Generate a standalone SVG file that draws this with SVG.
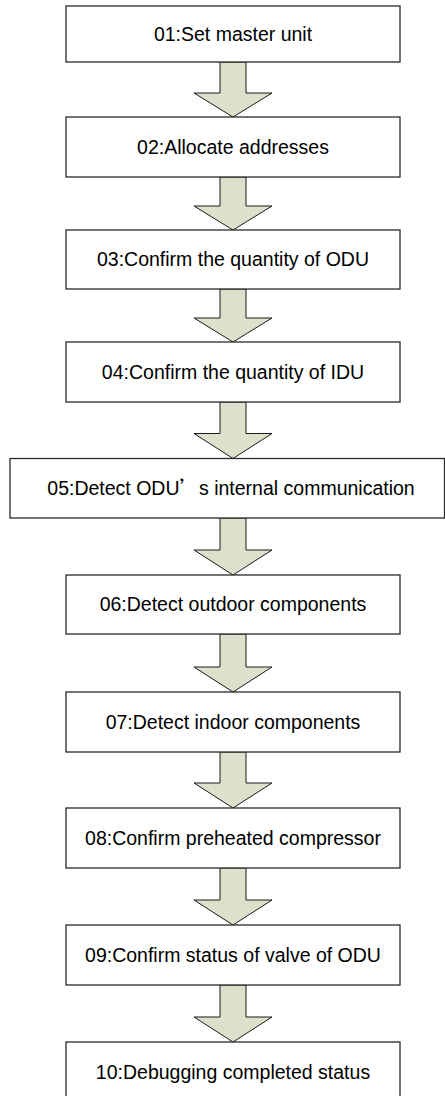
<svg xmlns="http://www.w3.org/2000/svg" width="445" height="1096" viewBox="0 0 445 1096">
<style>
.box{fill:#ffffff;stroke:#2a2a2a;stroke-width:1.3}
.lbl{font-family:"Liberation Sans",Arial,sans-serif;font-size:19.5px;fill:#000;text-anchor:middle}
.arr{fill:#dde0cb;stroke:#1a1a1a;stroke-width:1}
</style>
<rect x="0" y="0" width="445" height="1096" fill="#ffffff"/>
<g id="connectors">
<path class="arr" d="M220,62 L246,62 L246,93 L272,93 L233,117 L194,93 L220,93 Z"/>
<path class="arr" d="M220,177 L246,177 L246,206 L272,206 L233,230 L194,206 L220,206 Z"/>
<path class="arr" d="M220,289 L246,289 L246,318 L272,318 L233,342 L194,318 L220,318 Z"/>
<path class="arr" d="M220,402 L246,402 L246,433.5 L272,433.5 L233,458.5 L194,433.5 L220,433.5 Z"/>
<path class="arr" d="M220,518 L246,518 L246,550 L272,550 L233,575 L194,550 L220,550 Z"/>
<path class="arr" d="M220,634 L246,634 L246,667 L272,667 L233,692 L194,667 L220,667 Z"/>
<path class="arr" d="M220,752 L246,752 L246,783 L272,783 L233,808 L194,783 L220,783 Z"/>
<path class="arr" d="M220,868 L246,868 L246,900 L272,900 L233,925 L194,900 L220,900 Z"/>
<path class="arr" d="M220,985 L246,985 L246,1017 L272,1017 L233,1042 L194,1017 L220,1017 Z"/>
</g>
<g id="n01"><rect class="box" x="66" y="6" width="334" height="56"/><text class="lbl" x="233" y="41">01:Set master unit</text></g>
<g id="n02"><rect class="box" x="66" y="117" width="334" height="60"/><text class="lbl" x="233" y="153.5">02:Allocate addresses</text></g>
<g id="n03"><rect class="box" x="66" y="230" width="334" height="59"/><text class="lbl" x="233" y="266">03:Confirm the quantity of ODU</text></g>
<g id="n04"><rect class="box" x="66" y="342" width="334" height="60"/><text class="lbl" x="233" y="378.5">04:Confirm the quantity of IDU</text></g>
<g id="n05"><rect class="box" x="10" y="458.5" width="434.5" height="59.5"/><text class="lbl" x="231" y="495">05:Detect ODU<tspan font-family="'Noto Sans CJK SC',sans-serif">’</tspan>s internal communication</text></g>
<g id="n06"><rect class="box" x="66" y="575" width="334" height="59"/><text class="lbl" x="233" y="611">06:Detect outdoor components</text></g>
<g id="n07"><rect class="box" x="66" y="692" width="334" height="60"/><text class="lbl" x="233" y="728.5">07:Detect indoor components</text></g>
<g id="n08"><rect class="box" x="66" y="808" width="334" height="60"/><text class="lbl" x="233" y="844.5">08:Confirm preheated compressor</text></g>
<g id="n09"><rect class="box" x="66" y="925" width="334" height="60"/><text class="lbl" x="233" y="961.5">09:Confirm status of valve of ODU</text></g>
<g id="n10"><rect class="box" x="66" y="1042" width="334" height="70"/><text class="lbl" x="233" y="1078.5">10:Debugging completed status</text></g>
</svg>
